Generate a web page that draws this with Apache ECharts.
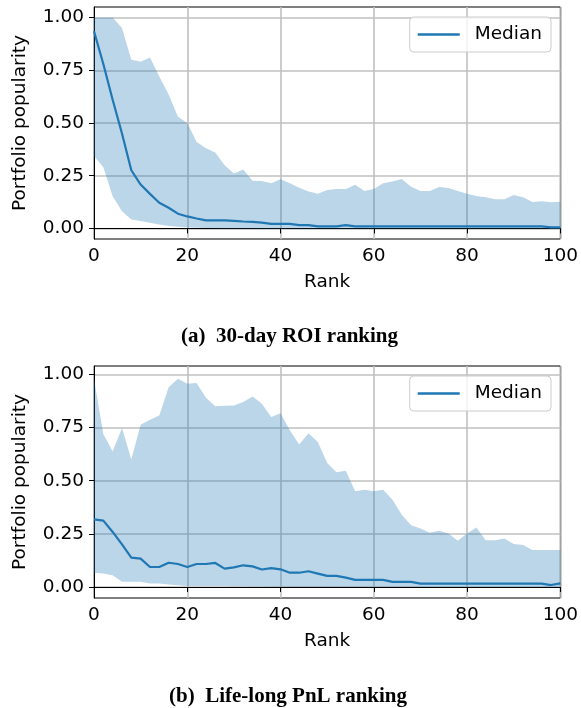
<!DOCTYPE html>
<html>
<head>
<meta charset="utf-8">
<script src="https://cdn.jsdelivr.net/npm/echarts@6/dist/echarts.min.js"></script>
<style>
html,body{margin:0;padding:0;background:#fff;}
#c{width:581px;height:708px;}
</style>
</head>
<body>
<div id="c"></div>
<script>
const ranks = [0,2,4,6,8,10,12,14,16,18,20,22,24,26,28,30,32,34,36,38,40,42,44,46,48,50,52,54,56,58,60,62,64,66,68,70,72,74,76,78,80,82,84,86,88,90,92,94,96,98,100];

const roiUpper = [1.0,1.0,1.0,0.95,0.80,0.79,0.81,0.72,0.635,0.53,0.50,0.41,0.38,0.36,0.30,0.26,0.28,0.226,0.225,0.214,0.233,0.214,0.193,0.175,0.165,0.182,0.187,0.187,0.207,0.178,0.187,0.214,0.223,0.234,0.198,0.178,0.178,0.197,0.192,0.178,0.164,0.154,0.148,0.138,0.138,0.159,0.148,0.126,0.129,0.124,0.127];
const roiLower = [0.343,0.29,0.153,0.082,0.043,0.035,0.027,0.019,0.012,0.008,0.005,0.003,0.002,0.001,0,0,0,0,0,0,0,0,0,0,0,0,0,0,0,0,0,0,0,0,0,0,0,0,0,0,0,0,0,0,0,0,0,0,0,0,0];
const roiMedian = [0.935,0.78,0.61,0.45,0.276,0.208,0.164,0.122,0.098,0.07,0.057,0.047,0.038,0.038,0.038,0.036,0.033,0.031,0.028,0.022,0.022,0.022,0.016,0.016,0.01,0.01,0.01,0.016,0.01,0.01,0.01,0.01,0.01,0.01,0.01,0.01,0.01,0.01,0.01,0.01,0.01,0.01,0.01,0.01,0.01,0.01,0.01,0.01,0.01,0.005,0.005];

const pnlUpper = [0.98,0.72,0.638,0.748,0.60,0.763,0.787,0.807,0.94,0.98,0.956,0.96,0.89,0.851,0.853,0.854,0.87,0.897,0.862,0.80,0.818,0.737,0.67,0.724,0.682,0.583,0.54,0.547,0.45,0.458,0.451,0.458,0.41,0.34,0.29,0.275,0.255,0.264,0.252,0.217,0.252,0.28,0.22,0.22,0.228,0.202,0.197,0.174,0.174,0.174,0.174];
const pnlLower = [0.067,0.063,0.055,0.024,0.024,0.024,0.016,0.016,0.011,0.008,0.005,0.005,0.005,0.004,0.004,0.003,0.003,0.002,0.002,0.001,0.001,0,0,0,0,0,0,0,0,0,0,0,0,0,0,0,0,0,0,0,0,0,0,0,0,0,0,0,0,0,0];
const pnlMedian = [0.318,0.312,0.259,0.20,0.138,0.133,0.094,0.094,0.114,0.108,0.094,0.108,0.108,0.113,0.086,0.092,0.102,0.097,0.082,0.089,0.083,0.067,0.067,0.074,0.063,0.052,0.052,0.044,0.033,0.033,0.033,0.033,0.024,0.024,0.024,0.016,0.016,0.016,0.016,0.016,0.016,0.016,0.016,0.016,0.016,0.016,0.016,0.016,0.016,0.009,0.017];

const yTicks = [0, 0.25, 0.5, 0.75, 1.0];
const xTickEvery = 10; // every 10th rank point -> 0,20,...,100
const captions = ['(a)  30-day ROI ranking', '(b)  Life-long PnL ranking'];
const seriesName = 'Median';
const yLabel = 'Portfolio popularity';
const xLabel = 'Rank';

const FONT = 'DejaVu Sans';
const FS = 18.5;
const BLUE = '#1f77b4';
const GRIDC = '#c0c0c0';

function diff(up, lo){ return up.map((u,i)=>+(u-lo[i]).toFixed(4)); }
const showTick = (idx) => idx % xTickEvery === 0;

function xAxisOpt(gi){
  return {
    gridIndex: gi, type: 'category', data: ranks.map(String), boundaryGap: false,
    name: xLabel, nameLocation: 'middle', nameGap: 34,
    nameTextStyle: {fontFamily: FONT, fontSize: FS, color: '#000'},
    axisLine: {show: true, lineStyle: {color: '#000', width: 1}},
    axisTick: {show: true, length: 5, interval: showTick, lineStyle: {color: '#000', width: 1}},
    axisLabel: {fontFamily: FONT, fontSize: FS, color: '#000', margin: 8, interval: showTick},
    splitLine: {show: true, interval: showTick, lineStyle: {color: GRIDC, width: 1.6}}
  };
}
function yAxisOpt(gi, mn, mx){
  return {
    gridIndex: gi, type: 'value', min: mn, max: mx,
    name: yLabel, nameLocation: 'middle', nameGap: 64, nameRotate: 90,
    nameTextStyle: {fontFamily: FONT, fontSize: FS, color: '#000'},
    axisLine: {show: true, lineStyle: {color: '#000', width: 1}},
    axisTick: {show: true, length: 5, customValues: yTicks, lineStyle: {color: '#000', width: 1}},
    axisLabel: {fontFamily: FONT, fontSize: FS, color: '#000', margin: 10, customValues: yTicks,
      formatter: v => v.toFixed(2)},
    splitLine: {show: true, lineStyle: {color: GRIDC, width: 1.6}}
  };
}
function bandSeries(gi, up, lo, key){
  return [
    {type: 'line', xAxisIndex: gi, yAxisIndex: gi, name: 'lo' + key, stack: 'band' + key,
     data: lo, symbol: 'none', lineStyle: {opacity: 0, width: 0}, silent: true},
    {type: 'line', xAxisIndex: gi, yAxisIndex: gi, name: 'band' + key, stack: 'band' + key,
     data: diff(up, lo), symbol: 'none', lineStyle: {opacity: 0, width: 0},
     areaStyle: {color: BLUE, opacity: 0.3}, silent: true}
  ];
}
function medianSeries(gi, med){
  return {type: 'line', xAxisIndex: gi, yAxisIndex: gi, name: seriesName, data: med,
    symbol: 'none', lineStyle: {color: BLUE, width: 2.2}, itemStyle: {color: BLUE}, z: 5};
}
function legendOpt(top){
  return {
    data: [{name: seriesName, icon: 'rect'}], right: 30, top: top,
    itemWidth: 42, itemHeight: 2.5, padding: [7, 9, 7, 8],
    backgroundColor: 'rgba(255,255,255,0.8)', borderColor: '#cccccc', borderWidth: 1, borderRadius: 4,
    textStyle: {fontFamily: FONT, fontSize: FS, color: '#000', padding: [0, 0, 0, 10], lineHeight: 21},
    selectedMode: false
  };
}

const chart = echarts.init(document.getElementById('c'), null, {renderer: 'canvas'});
chart.setOption({
  animation: false,
  backgroundColor: '#fff',
  title: [
    {text: captions[0], left: 181, top: 326, padding: 0,
     textStyle: {fontFamily: 'Liberation Serif', fontWeight: 'bold', fontSize: 21, color: '#000'}},
    {text: captions[1], left: 169, top: 686, padding: 0,
     textStyle: {fontFamily: 'Liberation Serif', fontWeight: 'bold', fontSize: 21, color: '#000'}}
  ],
  legend: [legendOpt(17), legendOpt(376)],
  grid: [
    {left: 94, top: 7, width: 467, height: 232, show: true, borderColor: '#000', borderWidth: 1, backgroundColor: 'transparent'},
    {left: 94, top: 366, width: 467, height: 232, show: true, borderColor: '#000', borderWidth: 1, backgroundColor: 'transparent'}
  ],
  xAxis: [xAxisOpt(0), xAxisOpt(1)],
  yAxis: [yAxisOpt(0, -0.05, 1.05), yAxisOpt(1, -0.052, 1.04)],
  series: [
    ...bandSeries(0, roiUpper, roiLower, 'a'),
    medianSeries(0, roiMedian),
    ...bandSeries(1, pnlUpper, pnlLower, 'b'),
    medianSeries(1, pnlMedian)
  ]
});
</script>
</body>
</html>
